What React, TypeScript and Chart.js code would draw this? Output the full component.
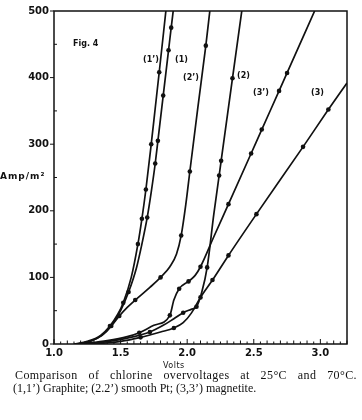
import React, { useEffect, useRef } from "react";
import { Chart, registerables } from "chart.js";

Chart.register(...registerables);

// (1') graphite, 70°C
const graphite70V = [1.15, 1.25, 1.35, 1.42, 1.48, 1.52, 1.58, 1.63, 1.66, 1.69, 1.73, 1.76, 1.79, 1.84];
const graphite70I = [0, 4, 13, 27, 45, 62, 100, 150, 188, 232, 300, 354, 408, 500];
const graphite70Marks = [3, 5, 7, 8, 9, 10, 12];

// (1) graphite, 25°C
const graphite25V = [1.17, 1.27, 1.36, 1.43, 1.5, 1.56, 1.62, 1.66, 1.7, 1.73, 1.76, 1.78, 1.82, 1.86, 1.88, 1.895];
const graphite25I = [0, 4, 13, 27, 50, 78, 115, 150, 190, 228, 271, 305, 373, 441, 475, 500];
const graphite25Marks = [3, 5, 8, 10, 11, 12, 13, 14];

// (2') smooth Pt, 70°C
const pt70V = [1.17, 1.27, 1.36, 1.43, 1.49, 1.55, 1.61, 1.72, 1.8, 1.87, 1.92, 1.955, 1.99, 2.02, 2.08, 2.14, 2.17];
const pt70I = [0, 4, 13, 27, 42, 55, 66, 85, 100, 116, 135, 163, 210, 259, 355, 448, 500];
const pt70Marks = [4, 6, 8, 11, 13, 15];

// (2) smooth Pt, 25°C
const pt25V = [1.25, 1.45, 1.6, 1.72, 1.82, 1.9, 1.97, 2.03, 2.07, 2.11, 2.15, 2.2, 2.24, 2.255, 2.34, 2.41];
const pt25I = [0, 5, 11, 18, 28, 38, 47, 52, 56, 78, 115, 195, 253, 275, 399, 500];
const pt25Marks = [3, 6, 8, 10, 12, 13, 14];

// (3') magnetite, 70°C
const mag70V = [1.2, 1.4, 1.55, 1.64, 1.75, 1.87, 1.9, 1.94, 2.01, 2.06, 2.1, 2.2, 2.31, 2.48, 2.56, 2.69, 2.75, 2.957];
const mag70I = [0, 5, 11, 17, 28, 43, 66, 83, 94, 103, 116, 161, 210, 286, 322, 380, 407, 500];
const mag70Marks = [3, 5, 7, 8, 10, 12, 13, 14, 15, 16];

// (3) magnetite, 25°C
const mag25V = [1.3, 1.5, 1.65, 1.8, 1.9, 1.97, 2.03, 2.1, 2.19, 2.31, 2.52, 2.87, 3.06, 3.2];
const mag25I = [0, 4, 10, 18, 24, 32, 46, 70, 96, 133, 195, 296, 352, 392];
const mag25Marks = [2, 4, 7, 8, 9, 10, 11, 12];

const xMin = 1.0;
const xMax = 3.2;
const yMin = 0;
const yMax = 500;

const curveLabels = [
  { text: "(1\u2019)", left: 143, top: 56 },
  { text: "(1)", left: 175, top: 56 },
  { text: "(2\u2019)", left: 183, top: 74 },
  { text: "(2)", left: 237, top: 72 },
  { text: "(3\u2019)", left: 253, top: 89 },
  { text: "(3)", left: 311, top: 89 },
];

const INK = "#111";

function series(label: string, xs: number[], ys: number[], marks: number[]) {
  return {
    label,
    data: xs.map((v, i) => ({ x: v, y: ys[i] })),
    borderColor: INK,
    backgroundColor: INK,
    borderWidth: 1.7,
    showLine: true,
    fill: false,
    cubicInterpolationMode: "monotone" as const,
    pointRadius: (ctx: any) => (marks.includes(ctx.dataIndex) ? 2.3 : 0),
    pointHoverRadius: 0,
    pointBorderWidth: 0,
    pointBackgroundColor: INK,
  };
}

const framePlugin = {
  id: "frame",
  afterDraw(chart: any) {
    const { ctx, chartArea: a, scales } = chart;
    const xs = scales.x;
    const ys = scales.y;
    ctx.save();
    ctx.strokeStyle = INK;
    ctx.lineWidth = 1.5;
    ctx.strokeRect(a.left, a.top, a.right - a.left, a.bottom - a.top);
    ctx.lineWidth = 1;
    ctx.beginPath();
    xs.ticks.forEach((t: any) => {
      const k = Math.round(t.value * 100);
      const px = xs.getPixelForValue(t.value);
      const len = k % 50 === 0 ? 5 : k % 10 === 0 ? 3.5 : 2.5;
      ctx.moveTo(px, a.bottom);
      ctx.lineTo(px, a.bottom - len);
    });
    ys.ticks.forEach((t: any) => {
      const py = ys.getPixelForValue(t.value);
      if (Math.round(t.value) % 100 === 0) {
        ctx.moveTo(a.left - 4, py);
        ctx.lineTo(a.left, py);
      } else {
        ctx.moveTo(a.left, py);
        ctx.lineTo(a.left + 3, py);
      }
    });
    ctx.stroke();
    ctx.restore();
  },
};

export default function App() {
  const ref = useRef<HTMLCanvasElement | null>(null);

  useEffect(() => {
    if (!ref.current) return;
    const chart = new Chart(ref.current, {
      type: "line",
      data: {
        datasets: [
          series("(1')", graphite70V, graphite70I, graphite70Marks),
          series("(1)", graphite25V, graphite25I, graphite25Marks),
          series("(2')", pt70V, pt70I, pt70Marks),
          series("(2)", pt25V, pt25I, pt25Marks),
          series("(3')", mag70V, mag70I, mag70Marks),
          series("(3)", mag25V, mag25I, mag25Marks),
        ] as any,
      },
      options: {
        animation: false,
        responsive: false,
        devicePixelRatio: 1,
        layout: { padding: { left: 0, top: 10, right: 15, bottom: 60 } },
        plugins: {
          legend: { display: false },
          tooltip: { enabled: false },
        },
        scales: {
          x: {
            type: "linear",
            min: xMin,
            max: xMax,
            grid: { display: false, drawTicks: false, tickLength: 0 },
            border: { display: false },
            afterFit: (s: any) => {
              s.height = 16;
            },
            ticks: {
              stepSize: 0.05,
              autoSkip: false,
              maxRotation: 0,
              padding: 3,
              color: INK,
              font: { family: "DejaVu Sans", size: 10, weight: "bold" },
              callback: (v: any) => {
                const k = Math.round(Number(v) * 100);
                return k % 50 === 0 ? (k / 100).toFixed(1) : "";
              },
            },
          },
          y: {
            type: "linear",
            min: yMin,
            max: yMax,
            grid: { display: false, drawTicks: false, tickLength: 0 },
            border: { display: false },
            afterFit: (s: any) => {
              s.width = 54;
            },
            ticks: {
              stepSize: 50,
              autoSkip: false,
              padding: 5,
              color: INK,
              font: { family: "DejaVu Sans", size: 10, weight: "bold" },
              callback: (v: any) => (Math.round(Number(v)) % 100 === 0 ? String(v) : ""),
            },
          },
        },
      },
      plugins: [framePlugin],
    });
    return () => chart.destroy();
  }, []);

  const labelFont: React.CSSProperties = {
    position: "absolute",
    fontFamily: "DejaVu Sans",
    fontWeight: "bold",
    fontSize: 8,
    lineHeight: "8px",
    color: INK,
    whiteSpace: "nowrap",
  };

  return (
    <div
      style={{
        position: "fixed",
        left: 0,
        top: 0,
        width: 362,
        height: 420,
        background: "#fff",
        overflow: "hidden",
      }}
    >
      <canvas ref={ref} width={362} height={420} style={{ display: "block", width: 362, height: 420 }} />
      <div style={{ ...labelFont, left: 73, top: 40 }}>Fig. 4</div>
      {curveLabels.map((l) => (
        <div key={l.text} style={{ ...labelFont, left: l.left, top: l.top }}>
          {l.text}
        </div>
      ))}
      <div style={{ ...labelFont, left: 0, top: 172, fontSize: 9, lineHeight: "9px", letterSpacing: 1 }}>
        Amp/m²
      </div>
      <div style={{ ...labelFont, left: 163, top: 362, fontSize: 8, letterSpacing: 0.5, fontWeight: "normal" }}>
        Volts
      </div>
      <div
        style={{
          position: "absolute",
          left: 15,
          top: 369,
          width: 342,
          fontFamily: "Liberation Serif",
          fontSize: 12,
          lineHeight: "13px",
          color: INK,
          textAlign: "justify",
          textAlignLast: "justify",
          letterSpacing: 0.4,
          whiteSpace: "nowrap",
        }}
      >
        Comparison of chlorine overvoltages at 25°C and 70°C.
      </div>
      <div
        style={{
          position: "absolute",
          left: 13,
          top: 382,
          fontFamily: "Liberation Serif",
          fontSize: 12,
          lineHeight: "13px",
          color: INK,
          whiteSpace: "nowrap",
        }}
      >
        (1,1’) Graphite; (2.2’) smooth Pt; (3,3’) magnetite.
      </div>
    </div>
  );
}
